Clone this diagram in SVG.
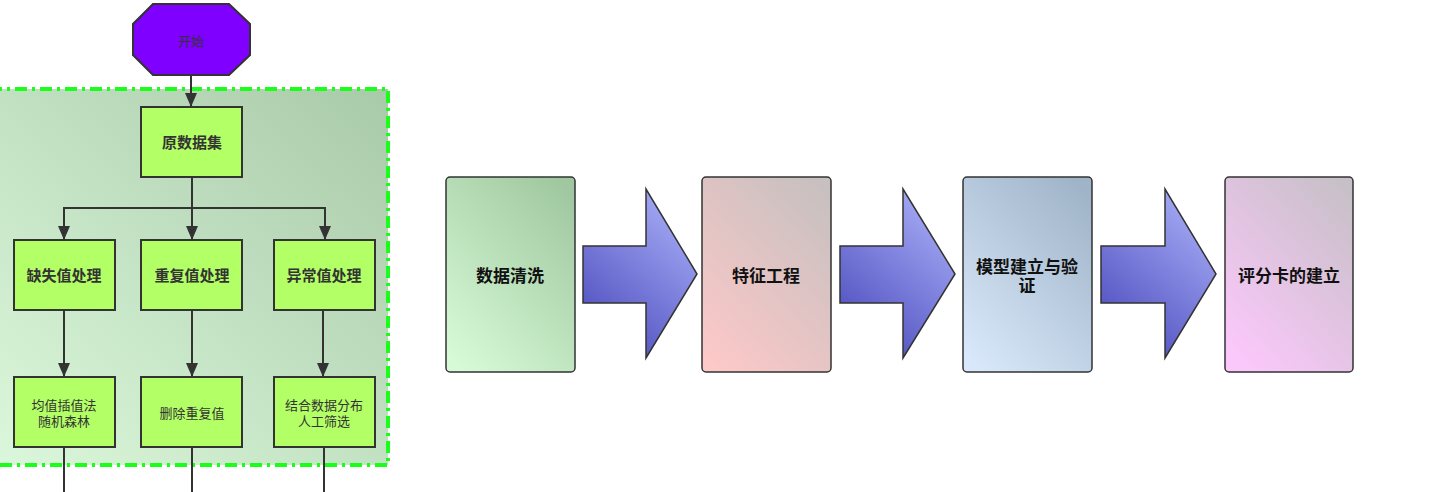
<svg xmlns="http://www.w3.org/2000/svg" width="1432" height="492" viewBox="0 0 1432 492">
<style>
.box{fill:#b3ff66;stroke:#333;stroke-width:2}
.t{font-family:"Liberation Sans","Noto Sans CJK SC",sans-serif;fill:#333;text-anchor:middle;dominant-baseline:central}
.b{font-weight:bold;font-size:15px}
.n{font-size:13px}
.card{stroke:#333;stroke-width:1.5}
.ct{font-family:"Liberation Sans","Noto Sans CJK SC",sans-serif;fill:#111;font-weight:bold;font-size:17px;text-anchor:middle;dominant-baseline:central}
.arr{stroke:#333;stroke-width:1.5;fill:url(#ga)}
.ln{fill:none;stroke:#333;stroke-width:2}
</style>
<defs>
<marker id="ah" viewBox="0 0 14 12" refX="14" refY="6" markerWidth="14" markerHeight="12" markerUnits="userSpaceOnUse" orient="auto-start-reverse">
<path d="M0,0 L14,6 L0,12 Z" fill="#333"/>
</marker>
<linearGradient id="gg" x1="0" y1="1" x2="1" y2="0"><stop offset="0" stop-color="#dcf8dc"/><stop offset="1" stop-color="#a9caa9"/></linearGradient>
<linearGradient id="g1" x1="0.15" y1="1" x2="0.85" y2="0"><stop offset="0" stop-color="#d6fad6"/><stop offset="1" stop-color="#a0c8a0"/></linearGradient>
<linearGradient id="g2" x1="0.15" y1="1" x2="0.85" y2="0"><stop offset="0" stop-color="#fcc8c8"/><stop offset="1" stop-color="#c8c0c0"/></linearGradient>
<linearGradient id="g3" x1="0.15" y1="1" x2="0.85" y2="0"><stop offset="0" stop-color="#d8e8fa"/><stop offset="1" stop-color="#a0b4c8"/></linearGradient>
<linearGradient id="g4" x1="0.15" y1="1" x2="0.85" y2="0"><stop offset="0" stop-color="#fcc8fc"/><stop offset="1" stop-color="#c8c0c8"/></linearGradient>
<linearGradient id="ga" x1="0.2" y1="1" x2="0.8" y2="0"><stop offset="0" stop-color="#4a4abc"/><stop offset="1" stop-color="#aab0f8"/></linearGradient>
</defs>

<g id="group-cleaning">
<rect x="-10" y="89" width="398" height="376" fill="url(#gg)" stroke="#1aff1a" stroke-width="4" stroke-dasharray="12 5 3 5"/>
</g>

<g id="connectors">
<line class="ln" x1="191" y1="75" x2="191" y2="107" marker-end="url(#ah)"/>
<line class="ln" x1="192" y1="177" x2="192" y2="240" marker-end="url(#ah)"/>
<polyline class="ln" points="64,240 64,208 325,208 325,240" marker-start="url(#ah)" marker-end="url(#ah)"/>
<line class="ln" x1="64" y1="310" x2="64" y2="377" marker-end="url(#ah)"/>
<line class="ln" x1="192" y1="310" x2="192" y2="377" marker-end="url(#ah)"/>
<line class="ln" x1="323" y1="310" x2="323" y2="377" marker-end="url(#ah)"/>
<line class="ln" x1="64" y1="447" x2="64" y2="500"/>
<line class="ln" x1="192" y1="447" x2="192" y2="500"/>
<line class="ln" x1="324" y1="447" x2="324" y2="500"/>
</g>

<g id="start">
<polygon points="153,4 229,4 250,24 250,55 229,75 153,75 133,55 133,24" fill="#7f00ff" stroke="#333" stroke-width="2"/>
<text class="t n" x="191" y="41">开始</text>
</g>
<g id="raw-data"><rect class="box" x="141" y="107" width="101" height="70"/><text class="t b" x="192" y="142">原数据集</text></g>
<g id="missing"><rect class="box" x="14" y="240" width="101" height="70"/><text class="t b" x="64" y="275">缺失值处理</text></g>
<g id="duplicate"><rect class="box" x="141" y="240" width="101" height="70"/><text class="t b" x="192" y="275">重复值处理</text></g>
<g id="outlier"><rect class="box" x="274" y="240" width="101" height="70"/><text class="t b" x="324" y="275">异常值处理</text></g>
<g id="missing-method"><rect class="box" x="14" y="377" width="101" height="70"/><text class="t n" x="64" y="405">均值插值法</text><text class="t n" x="64" y="421">随机森林</text></g>
<g id="duplicate-method"><rect class="box" x="141" y="377" width="101" height="70"/><text class="t n" x="192" y="413">删除重复值</text></g>
<g id="outlier-method"><rect class="box" x="274" y="377" width="101" height="70"/><text class="t n" x="324" y="405">结合数据分布</text><text class="t n" x="324" y="421">人工筛选</text></g>

<g id="step1"><rect class="card" x="446" y="177" width="129" height="195" rx="4" fill="url(#g1)"/><text class="ct" x="510" y="276">数据清洗</text></g>
<g id="arrow1"><polygon class="arr" points="583,246 646,246 646,189 697,274 646,358 646,303 583,303"/></g>
<g id="step2"><rect class="card" x="702" y="177" width="129" height="195" rx="4" fill="url(#g2)"/><text class="ct" x="766" y="276">特征工程</text></g>
<g id="arrow2"><polygon class="arr" points="840,246 903,246 903,189 955,274 903,358 903,303 840,303"/></g>
<g id="step3"><rect class="card" x="963" y="177" width="129" height="195" rx="4" fill="url(#g3)"/><text class="ct" x="1027" y="267">模型建立与验</text><text class="ct" x="1027" y="286">证</text></g>
<g id="arrow3"><polygon class="arr" points="1101,246 1165,246 1165,189 1216,274 1165,358 1165,303 1101,303"/></g>
<g id="step4"><rect class="card" x="1225" y="177" width="128" height="195" rx="4" fill="url(#g4)"/><text class="ct" x="1289" y="276">评分卡的建立</text></g>
</svg>
